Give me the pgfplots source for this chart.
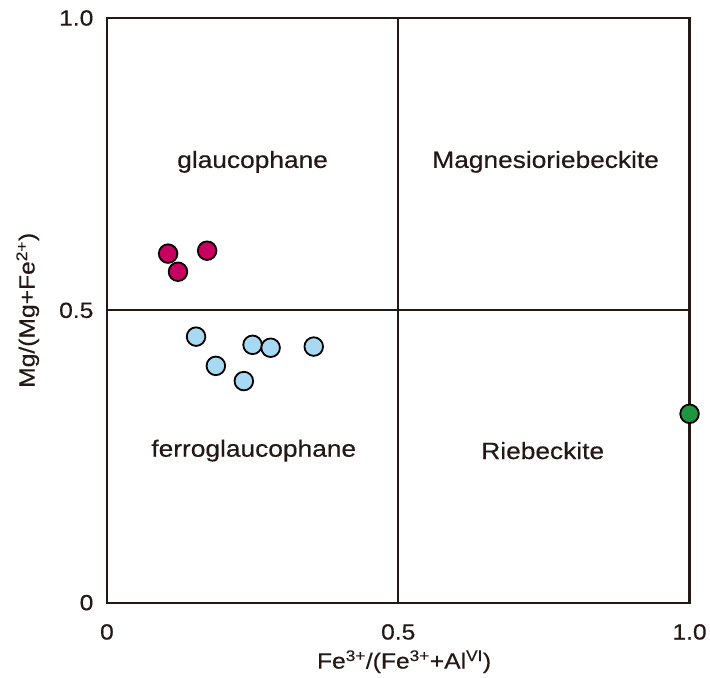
\documentclass[border=0pt]{standalone}
\usepackage{pgfplots}
\pgfplotsset{compat=1.18}
\usepackage{fontspec}
\setmainfont[FakeStretch=1.12, FakeBold=0.4]{Liberation Sans}
\definecolor{frame}{HTML}{231815}
\definecolor{mag}{HTML}{C8005F}
\definecolor{lblue}{HTML}{A8D9F2}
\definecolor{grn}{HTML}{1E9640}
\begin{document}
\begin{tikzpicture}[x=1pt,y=1pt]
\begin{axis}[
  scale only axis,
  width=583pt, height=585pt,
  xmin=0, xmax=1, ymin=0, ymax=1,
  axis line style={frame, line width=2.2pt},
  xtick={0,0.5,1}, ytick={0,0.5,1},
  xticklabels={0,0.5,1.0}, yticklabels={0,0.5,1.0},
  major tick length=0pt,
  /pgf/number format/assume math mode=true,
  tick label style={font=\fontsize{22}{26}\selectfont, text=frame},
  xticklabel style={yshift=-18pt},
  yticklabel style={xshift=-10pt},
  xlabel={Fe\textsuperscript{3+}/(Fe\textsuperscript{3+}+Al\textsuperscript{VI})},
  ylabel={Mg/(Mg+Fe\textsuperscript{2+})},
  label style={font=\fontsize{22}{26}\selectfont, text=frame},
  xlabel style={at={(rel axis cs:0.51,-0.101)}, anchor=center},
  ylabel style={at={(rel axis cs:-0.136,0.5)}, anchor=center},
  clip=false,
]
\draw[frame, line width=2.2pt] (axis cs:0.5,0) -- (axis cs:0.5,1);
\draw[frame, line width=2.2pt] (axis cs:0,0.5) -- (axis cs:1,0.5);
\node[font=\fontsize{23.5}{27}\selectfont, text=frame] at (axis cs:0.25,0.754) {glaucophane};
\node[font=\fontsize{23.5}{27}\selectfont, text=frame] at (axis cs:0.753,0.754) {Magnesioriebeckite};
\node[font=\fontsize{23.5}{27}\selectfont, text=frame] at (axis cs:0.252,0.26) {ferroglaucophane};
\node[font=\fontsize{23.5}{27}\selectfont, text=frame] at (axis cs:0.748,0.26) {Riebeckite};
\addplot[only marks, mark=*, mark size=9.3pt, mark options={fill=mag, draw=black, line width=1.8pt}] coordinates {
(0.105,0.597) (0.122,0.566) (0.172,0.602)};
\addplot[only marks, mark=*, mark size=9.3pt, mark options={fill=lblue, draw=black, line width=1.8pt}] coordinates {
(0.153,0.455) (0.187,0.405) (0.235,0.379) (0.250,0.441) (0.281,0.436) (0.355,0.438)};
\addplot[only marks, mark=*, mark size=9.3pt, mark options={fill=grn, draw=black, line width=1.8pt}] coordinates {
(1.0,0.323)};
\path[use as bounding box] (rel axis cs:-0.1835,-0.1282) rectangle (rel axis cs:1.0343,1.0308);
\end{axis}
\end{tikzpicture}
\end{document}
